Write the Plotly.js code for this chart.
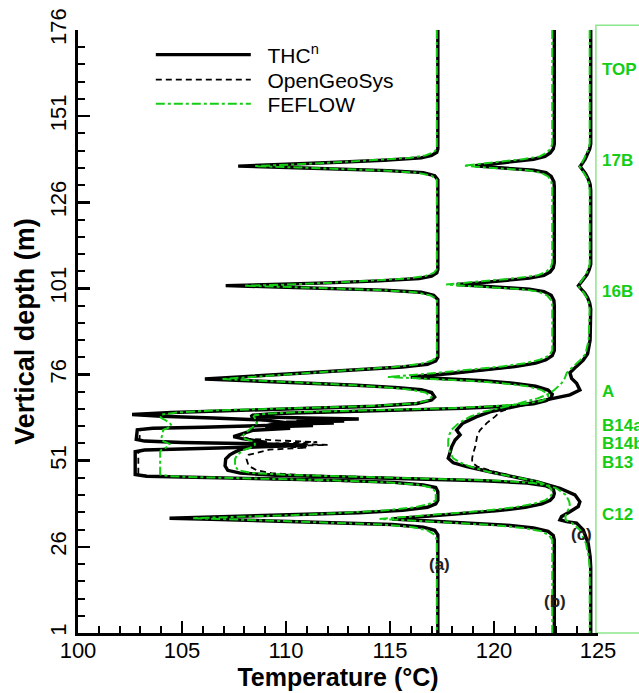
<!DOCTYPE html>
<html><head><meta charset="utf-8">
<script src="https://cdn.plot.ly/plotly-3.0.1.min.js"></script>
<style>html,body{margin:0;padding:0;background:#fff}#chart{width:639px;height:693px}</style>
</head><body><div id="chart"></div>
<script>
// ---- tick labels ----
const xTicks = [100, 105, 110, 115, 120, 125];
const yTicks = [1, 26, 51, 76, 101, 126, 151, 176];
const seriesNames = ['THC<sup>n</sup>', 'OpenGeoSys', 'FEFLOW'];
const profileLabels = ['(a)', '(b)', '(c)'];
const profileLabelT = [117.4, 122.95, 124.2];
const profileLabelDepth = [21, 10, 29.5];
const layerNames = ['TOP', '17B', '16B', 'A', 'B14a', 'B14b', 'B13', 'C12'];
const layerDepths = [164.4, 138.0, 100.0, 71.2, 61.2, 55.9, 50.5, 35.3];

// ---- profile (a) ----
const depthA = [176,141.5,140.5,139.6,138.9,138.2,137.6,137.0,136.5,136.1,135.7,135.2,134.6,133.7,132.5,
106.5,105.5,104.6,103.9,103.2,102.6,102.1,101.8,101.4,101.0,100.5,99.9,99.0,97.8,
81.0,80.0,79.0,78.2,77.5,76.5,75.5,74.7,74.2,73.6,72.9,72.2,71.6,70.8,69.5,68.6,67.6,66.8,66.2,65.6,
65.0,64.4,63.9,63.4,62.8,62.0,61.2,60.7,60.4,60.0,57.2,56.7,56.3,55.9,55.5,55.0,54.5,54.1,53.6,47.0,
46.5,46.2,45.8,45.3,44.7,44.0,43.2,42.0,
39.5,38.5,37.5,36.6,35.9,35.2,34.7,34.3,34.0,33.6,33.1,32.5,31.7,30.8,29.5,28.0,1];
const thcA = [117.3,117.3,117.25,117.0,116.5,114.7,112.5,110.1,107.7,110.1,112.5,114.9,116.6,117.15,117.3,
117.3,117.25,117.0,116.4,114.5,112.0,109.5,107.1,109.6,112.2,114.7,116.5,117.1,117.3,
117.3,117.2,116.8,115.6,113.6,111.0,108.4,106.1,108.2,110.8,113.4,115.4,116.5,117.0,117.15,117.0,116.3,114.3,111.0,107.5,
104.5,102.6,104.0,106.5,109.0,110.0,109.0,106.0,103.6,102.85,102.8,103.2,105.0,109.0,111.0,108.5,105.0,103.2,102.75,102.75,
103.3,105.5,109.0,112.5,115.2,116.6,117.2,117.3,
117.3,117.2,116.8,115.6,113.5,110.0,107.0,104.4,106.4,108.8,112.2,115.1,116.6,117.15,117.3,117.3,117.3];
const ogsA = [117.3,117.3,117.25,117.0,116.5,114.8,112.6,110.3,107.9,110.2,112.6,114.9,116.6,117.15,117.3,
117.3,117.25,117.0,116.4,114.6,112.1,109.7,107.3,109.8,112.3,114.7,116.5,117.1,117.3,
117.3,117.2,116.8,115.6,113.7,111.1,108.6,106.3,108.4,110.9,113.4,115.4,116.5,117.0,117.15,117.0,116.3,114.4,111.2,107.7,
104.7,102.8,104.1,106.4,108.8,109.8,108.8,105.8,103.7,103.0,102.95,103.3,105.0,108.6,110.6,108.3,105.0,103.3,102.9,102.9,
103.4,105.5,109.0,112.5,115.2,116.6,117.2,117.3,
117.3,117.2,116.8,115.6,113.6,110.2,107.2,104.6,106.5,108.9,112.3,115.1,116.6,117.15,117.3,117.3,117.3];
const febA = [117.25,117.25,117.1,116.7,116.0,114.3,112.4,110.5,108.5,110.6,112.6,114.7,116.3,117.0,117.25,
117.25,117.1,116.7,115.9,114.1,112.0,110.0,108.0,110.2,112.4,114.6,116.2,116.95,117.25,
117.25,117.0,116.4,115.2,113.5,111.3,109.0,106.9,108.8,111.1,113.3,115.0,116.0,116.7,117.0,116.9,116.2,113.8,110.0,106.5,
104.8,104.0,103.95,104.0,104.2,104.4,104.5,104.4,104.3,104.1,104.0,104.1,104.3,104.4,104.4,104.3,104.1,104.0,103.95,103.95,
104.4,105.8,108.8,112.3,114.9,116.4,117.0,117.2,
117.2,116.9,116.2,114.8,112.8,110.3,107.6,105.5,107.3,109.4,112.2,114.6,116.1,116.8,117.15,117.25,117.25];

// ---- profile (b) ----
const depthB = [176,143.0,141.5,140.3,139.3,138.5,137.8,137.1,136.6,136.2,135.8,135.3,134.6,133.5,132.0,130.5,
108.5,107.0,105.8,104.8,104.0,103.3,102.6,102.15,101.7,101.3,100.8,100.1,99.0,97.5,96.0,
83.0,81.5,80.3,79.3,78.3,77.3,76.3,75.3,74.8,74.2,73.5,72.6,71.5,70.3,69.3,68.4,67.5,66.8,66.2,65.7,
65.2,64.7,64.2,63.8,63.4,63.1,62.8,62.5,62.2,61.9,61.6,61.2,60.8,60.4,59.8,58.8,58.0,57.4,56.9,56.4,
56.0,55.6,55.2,54.8,54.2,53.4,52.7,51.5,49.5,48.2,47.4,46.8,46.3,45.8,45.2,44.5,43.7,42.8,41.5,
40.5,39.5,38.5,37.5,36.5,35.6,34.8,34.1,33.6,33.0,32.3,31.5,30.5,29.3,28.0,1];
const thcB = [122.9,122.9,122.85,122.7,122.45,121.9,120.9,119.8,119.1,119.9,120.9,121.9,122.5,122.75,122.88,122.9,
122.9,122.85,122.7,122.4,121.7,120.6,119.3,118.2,119.3,120.5,121.7,122.4,122.75,122.88,122.9,
122.9,122.8,122.5,122.0,121.0,119.6,117.9,116.0,117.8,119.5,120.9,122.0,122.6,122.8,122.75,122.5,121.9,120.6,118.5,115.5,
112.0,109.5,108.4,108.3,111.0,113.5,110.5,112.8,110.0,112.3,109.5,111.3,109.0,110.2,108.4,107.8,107.47,107.9,108.5,109.0,
109.0,108.8,108.5,108.2,107.8,107.5,107.3,107.1,107.07,107.2,107.8,109.5,112.5,116.0,119.5,121.6,122.5,122.85,122.9,
122.85,122.7,122.3,121.5,120.2,118.5,116.6,115.1,116.8,118.8,120.6,121.9,122.6,122.85,122.9,122.9];
const ogsB = [122.9,122.9,122.85,122.7,122.45,121.9,121.0,119.9,119.2,120.0,121.0,121.9,122.5,122.75,122.88,122.9,
122.9,122.85,122.7,122.4,121.7,120.7,119.4,118.3,119.4,120.6,121.7,122.4,122.75,122.88,122.9,
122.9,122.8,122.5,122.0,121.1,119.7,118.0,116.2,117.9,119.6,121.0,122.0,122.6,122.8,122.75,122.5,121.9,120.7,118.6,115.8,
112.3,109.8,108.8,108.6,108.6,108.6,108.6,108.6,108.6,108.5,108.5,108.5,108.4,108.4,108.3,108.0,107.9,108.2,109.5,111.5,
109.5,112.0,109.8,111.0,109.2,108.6,108.2,108.1,108.2,108.6,109.3,110.8,113.3,116.5,119.8,121.7,122.6,122.85,122.9,
122.85,122.7,122.3,121.5,120.3,118.6,116.7,115.3,116.9,118.9,120.6,121.9,122.6,122.85,122.9,122.9];
const febB = [122.8,122.8,122.72,122.5,122.2,121.4,120.3,119.2,118.55,119.4,120.5,121.6,122.25,122.6,122.75,122.8,
122.8,122.72,122.5,122.1,121.1,119.9,118.6,117.7,118.8,120.0,121.3,122.1,122.55,122.75,122.8,
122.8,122.65,122.2,121.5,120.3,118.7,116.9,114.9,116.8,118.8,120.4,121.6,122.3,122.6,122.6,122.3,121.5,119.9,117.8,114.5,
111.0,109.2,108.5,108.45,108.5,108.5,108.55,108.6,108.6,108.6,108.55,108.5,108.4,108.3,108.2,108.0,107.9,108.0,108.3,108.5,
108.5,108.5,108.4,108.3,108.0,107.8,107.65,107.55,107.55,107.7,108.4,110.5,114.0,117.5,120.3,121.9,122.6,122.75,122.8,
122.7,122.45,121.9,121.0,119.6,117.8,115.9,114.5,116.2,118.2,120.0,121.4,122.3,122.65,122.8,122.8];

// ---- profile (c) ----
const depthC = [176,143,141.5,140,138.5,137.3,136.4,135.5,134.3,132.8,131.2,129.5,
108,106.5,105,103.8,102.7,101.8,100.9,99.7,98.3,96.7,95,
86,82,80.2,78.3,76.5,74.9,73.5,71.5,70.1,69.1,67.7,66.7,65.2,63.8,61.9,59.9,58.5,57.0,55.1,53.2,
51.7,50.4,49.3,47.8,46.4,44.9,43.0,41.1,39.1,37.7,36.2,34.8,33.8,33.3,32.9,30.9,27.0,23.2,20,1];
const thcC = [124.65,124.65,124.6,124.5,124.38,124.25,124.14,124.25,124.4,124.53,124.62,124.65,
124.65,124.58,124.47,124.32,124.17,124.06,124.18,124.36,124.5,124.6,124.65,
124.62,124.5,124.29,123.95,123.65,123.73,123.97,124.13,123.65,122.85,121.73,120.93,119.8,119.17,118.5,118.2,118.37,118.13,117.97,117.88,
117.8,118.04,118.69,119.8,120.93,122.05,123.17,123.89,124.13,124.05,123.65,123.25,123.17,123.49,123.97,124.29,124.53,124.62,124.65,124.65];
const ogsC = [124.65,124.65,124.6,124.5,124.38,124.25,124.14,124.25,124.4,124.53,124.62,124.65,
124.65,124.58,124.47,124.32,124.17,124.06,124.18,124.36,124.5,124.6,124.65,
124.62,124.5,124.29,123.95,123.65,123.73,123.97,124.13,123.65,122.85,121.73,120.93,120.3,120.05,119.65,119.33,119.2,119.17,119.1,119.0,
118.95,118.95,119.2,120.0,120.95,122.05,123.17,123.89,124.13,124.05,123.65,123.25,123.17,123.49,123.97,124.29,124.53,124.62,124.65,124.65];
const febC = [124.6,124.6,124.55,124.45,124.32,124.2,124.12,124.22,124.36,124.5,124.58,124.6,
124.6,124.53,124.42,124.27,124.12,124.05,124.15,124.32,124.46,124.56,124.6,
124.55,124.4,124.15,123.8,123.5,123.4,123.25,122.9,122.53,122.1,121.25,120.6,119.5,118.85,118.3,117.95,117.85,117.8,117.8,117.9,
118.04,118.4,118.85,119.7,120.9,122.1,123.0,123.45,123.62,123.65,123.52,123.43,123.45,123.6,123.75,124.13,124.42,124.55,124.6,124.6];

// ---- styles ----
const GREEN = 'rgb(20,205,20)';
const styles = [
  {color: '#000', width: 3.4, dash: 'solid'},
  {color: '#000', width: 1.8, dash: '6px,4px'},
  {color: GREEN, width: 2, dash: 'dashdot'}
];
const legendIds = ['legend', 'legend2', 'legend3'];
const profiles = [
  {depth: depthA, series: [thcA, ogsA, febA]},
  {depth: depthB, series: [thcB, ogsB, febB]},
  {depth: depthC, series: [thcC, ogsC, febC]}
];

const traces = [];
for (let s = 0; s < 3; s++) {
  profiles.forEach((p, i) => {
    traces.push({
      type: 'scatter', mode: 'lines',
      x: p.series[s], y: p.depth,
      name: '\u00a0\u00a0' + seriesNames[s], legendgroup: 'g' + s, legend: legendIds[s],
      showlegend: i === 0,
      line: {color: styles[s].color, width: styles[s].width, dash: styles[s].dash},
      hoverinfo: 'skip'
    });
  });
}

const FONT = 'Liberation Sans, Arial, Helvetica, sans-serif';
const annotations = [];
profileLabels.forEach((t, i) => annotations.push({
  x: profileLabelT[i], y: profileLabelDepth[i], xref: 'x', yref: 'y', text: '<b>' + t + '</b>',
  showarrow: false, font: {family: FONT, size: 17, color: '#222'}
}));
layerNames.forEach((t, i) => annotations.push({
  x: 1.004, y: layerDepths[i], xref: 'paper', yref: 'y', xanchor: 'left', text: '<b>' + t + '</b>',
  showarrow: false, font: {family: FONT, size: 17, color: GREEN}
}));

const legendRowsY = [0.9585, 0.917, 0.877];
function legendAt(yv) {
  return {x: 0.14, y: yv, xanchor: 'left', yanchor: 'middle', bgcolor: 'rgba(0,0,0,0)', borderwidth: 0,
          font: {family: FONT, size: 21, color: '#000'}, itemwidth: 95};
}

const layout = {
  width: 639, height: 693,
  margin: {l: 78, r: 41, t: 30, b: 60},
  paper_bgcolor: '#fff', plot_bgcolor: '#fff',
  font: {family: FONT, color: '#000'},
  showlegend: true,
  legend: legendAt(legendRowsY[0]),
  legend2: legendAt(legendRowsY[1]),
  legend3: legendAt(legendRowsY[2]),
  xaxis: {
    range: [100, 125], tickvals: xTicks, ticktext: xTicks.map(String),
    ticks: 'inside', ticklen: 12, tickwidth: 2.5, tickcolor: '#000',
    showline: true, linewidth: 3, linecolor: '#000', mirror: false,
    showgrid: false, zeroline: false, ticklabelstandoff: -4,
    minor: {tick0: 100, dtick: 1, ticks: 'inside', ticklen: 7, tickwidth: 2, tickcolor: '#000', showgrid: false},
    tickfont: {family: FONT, size: 22, color: '#000'},
    title: {text: 'Temperature (°C)', font: {family: FONT, size: 25, weight: 'bold', color: '#000'}, standoff: 2}
  },
  yaxis: {
    range: [1, 176], tickvals: yTicks, ticktext: yTicks.map(String), tickangle: -90,
    ticks: 'inside', ticklen: 12, tickwidth: 2.5, tickcolor: '#000',
    showline: true, linewidth: 3, linecolor: '#000', mirror: false,
    showgrid: false, zeroline: false,
    minor: {tick0: 1, dtick: 5, ticks: 'inside', ticklen: 7, tickwidth: 2, tickcolor: '#000', showgrid: false},
    tickfont: {family: FONT, size: 22, color: '#000'},
    title: {text: 'Vertical depth (m)', font: {family: FONT, size: 27, weight: 'bold', color: '#000'}, standoff: 4}
  },
  shapes: [{
    type: 'rect', xref: 'paper', yref: 'paper', x0: 0.996, x1: 1.2, y0: 0, y1: 1.008,
    line: {color: 'rgb(140,230,140)', width: 1.5}, fillcolor: 'rgba(0,0,0,0)', layer: 'below'
  }],
  annotations: annotations
};

Plotly.newPlot('chart', traces, layout, {displayModeBar: false, staticPlot: true});
</script>
</body></html>
